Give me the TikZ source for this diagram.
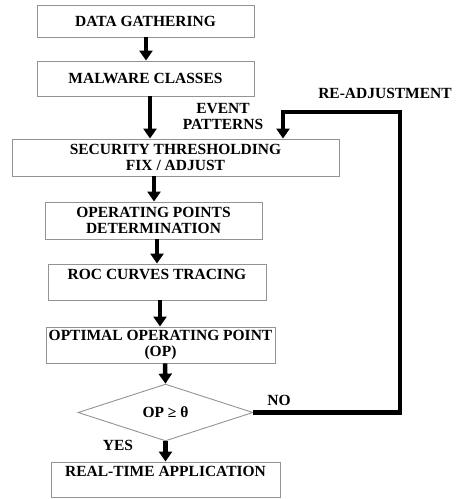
\documentclass[tikz,border=0pt]{standalone}
\usepackage{fontspec}
\setmainfont{Liberation Serif}
\usetikzlibrary{arrows.meta,shapes.geometric}
\begin{document}
\begin{tikzpicture}[x=1pt,y=-1pt,
  box/.style={draw=gray!85, line width=0.9pt, inner sep=0pt, align=center,
    font=\bfseries\fontsize{15.5}{15.5}\selectfont},
  flow/.style={line width=4.5pt, line join=miter, -{Triangle[width=13pt,length=10pt]}},
  lbl/.style={font=\bfseries\fontsize{15.5}{16}\selectfont, align=center, inner sep=0pt}]
\useasboundingbox (0,0) rectangle (456,499);
\node[box, minimum width=217, minimum height=32] (b1) at (145.5,21) {DATA GATHERING};
\node[box, minimum width=217, minimum height=35] (b2) at (145.5,78.5) {MALWARE CLASSES};
\node[box, minimum width=327, minimum height=37] (b3) at (175.5,157.5) {SECURITY THRESHOLDING\\FIX / ADJUST};
\node[box, minimum width=217, minimum height=37] (b4) at (153.5,220.5) {OPERATING POINTS\\DETERMINATION};
\node[box, minimum width=218, minimum height=36] (b5) at (157,282) {ROC CURVES TRACING\\\mbox{}};
\node[box, minimum width=229, minimum height=36] (b6) at (160.5,345) {OPTIMAL OPERATING POINT\\(OP)};
\node[box, diamond, minimum width=175, minimum height=45] (d) at (165.5,412.5) {OP ≥ θ};
\node[box, minimum width=229, minimum height=35] (b7) at (165.5,479.5) {REAL-TIME APPLICATION\\\mbox{}};

\node[lbl] (lev) at (223,116) {EVENT\\PATTERNS};
\node[lbl] (lre) at (385,93) {RE-ADJUSTMENT};
\node[lbl] (lno) at (279,400) {NO};
\node[lbl] (lyes) at (118,445) {YES};

\draw[flow] ([xshift=0.5pt]b1.south) -- ([xshift=0.5pt]b1.south |- b2.north);
\draw[flow] ([xshift=4.5pt]b2.south) -- ([xshift=4.5pt]b2.south |- b3.north);
\draw[flow] ([xshift=0.5pt]b4.north |- b3.south) -- ([xshift=0.5pt]b4.north);
\draw[flow] ([xshift=3.5pt]b4.south) -- ([xshift=3.5pt]b4.south |- b5.north);
\draw[flow] ([xshift=3pt]b5.south) -- ([xshift=3pt]b5.south |- b6.north);
\draw[flow] ([xshift=4.5pt]b6.south) -- (d.north);
\draw[flow] (d.south) -- (b7.north);
\coordinate (fb) at (400,112);
\draw[flow] (d.east) -| (fb) -| ([xshift=107.5pt]b3.north);
\end{tikzpicture}
\end{document}
